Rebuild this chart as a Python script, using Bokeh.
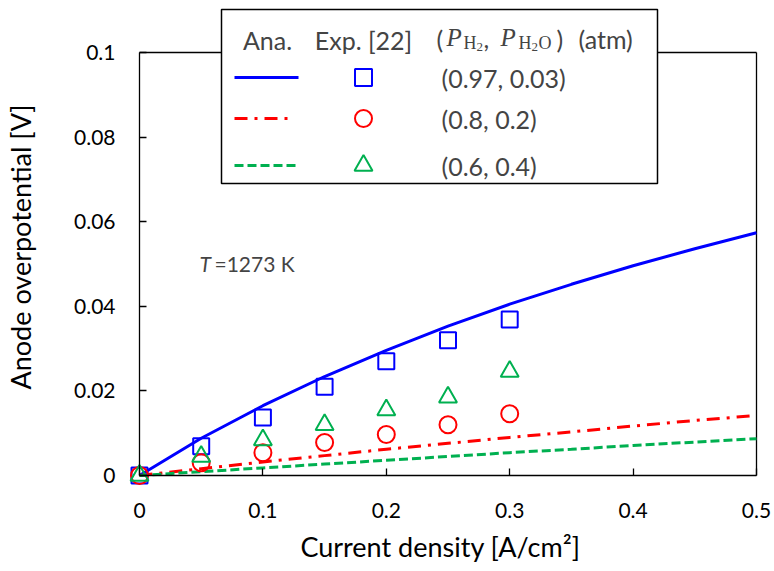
from bokeh.plotting import figure
from bokeh.models import Label, BoxAnnotation, Range1d, FixedTicker, NumeralTickFormatter, LinearAxis
from bokeh.embed import file_html
from bokeh.resources import INLINE

# ---------------- data ----------------
x_ana = [0.0, 0.05, 0.1, 0.15, 0.2, 0.25, 0.3, 0.35, 0.4, 0.45, 0.5]
eta_ana_097 = [0.0, 0.0088, 0.0165, 0.0234, 0.0296, 0.0353, 0.0405, 0.0452, 0.0496, 0.0536, 0.0574]
eta_ana_08 = [0.0, 0.0016, 0.0032, 0.0047, 0.0062, 0.0076, 0.0090, 0.0103, 0.0117, 0.0130, 0.0142]
eta_ana_06 = [0.0, 0.0009, 0.0018, 0.0027, 0.0036, 0.0045, 0.0054, 0.0062, 0.0071, 0.0079, 0.0087]

x_exp = [0.0, 0.05, 0.1, 0.15, 0.2, 0.25, 0.3]
eta_exp_097 = [0.0, 0.0069, 0.0137, 0.0210, 0.0270, 0.0320, 0.0369]
eta_exp_08 = [0.0, 0.0030, 0.0054, 0.0078, 0.0097, 0.0120, 0.0146]
eta_exp_06 = [0.0, 0.0045, 0.0084, 0.0120, 0.0155, 0.0185, 0.0246]

x_ticks = [0, 0.1, 0.2, 0.3, 0.4, 0.5]
y_ticks = [0, 0.02, 0.04, 0.06, 0.08, 0.1]
x_lim = (0, 0.5)
y_lim = (0, 0.1)

legend_header = ["Ana.", "Exp. [22]"]
legend_labels = ["(0.97, 0.03)", "(0.8, 0.2)", "(0.6, 0.4)"]

BLUE = "#0000FF"
RED = "#FF0000"
GREEN = "#00B050"
FONT = "Lato"
SERIF = "Liberation Serif"

# ---------------- layout (pixels) ----------------
W, H = 774, 571
AX_L, AX_R, AX_T, AX_B = 139, 756, 52, 475     # where the axes box is drawn
FR_L, FR_R, FR_T, FR_B = 121, 759, 5, 488      # plotting frame (slightly larger, so markers are not clipped)
sx = (AX_R - AX_L) / (x_lim[1] - x_lim[0])
sy = (AX_B - AX_T) / (y_lim[1] - y_lim[0])

p = figure(width=W, height=H, output_backend="svg", toolbar_location=None,
           x_range=Range1d(x_lim[0] - (AX_L - FR_L) / sx, x_lim[1] + (FR_R - AX_R) / sx),
           y_range=Range1d(y_lim[0] - (FR_B - AX_B) / sy, y_lim[1] + (AX_T - FR_T) / sy),
           min_border_left=FR_L, min_border_right=W - FR_R,
           min_border_top=FR_T, min_border_bottom=H - FR_B)
p.xgrid.visible = False
p.ygrid.visible = False
p.outline_line_color = None
p.background_fill_color = "white"
p.border_fill_color = "white"


def px2x(px):
    return x_lim[0] + (px - AX_L) / sx


def py2y(py):
    return y_lim[0] + (AX_B - py) / sy


# label-only axes at the frame edges
for ax, ticks, fmt in ((p.xaxis[0], x_ticks, "0.[0]"), (p.yaxis[0], y_ticks, "0.[00]")):
    ax.ticker = FixedTicker(ticks=ticks)
    ax.formatter = NumeralTickFormatter(format=fmt)
    ax.axis_line_color = None
    ax.major_tick_line_color = None
    ax.minor_tick_line_color = None
    ax.major_tick_in = 0
    ax.major_tick_out = 0
    ax.major_label_text_font = FONT
    ax.major_label_text_font_size = "21px"
    ax.major_label_text_color = "black"
    ax.axis_label_text_font = FONT
    ax.axis_label_text_font_size = "27px"
    ax.axis_label_text_font_style = "normal"
    ax.axis_label_text_color = "black"

p.xaxis.axis_label = "Current density [A/cm²]"
p.yaxis.axis_label = "Anode overpotential [V]"
p.xaxis.major_label_standoff = 14
p.yaxis.major_label_standoff = 6
p.xaxis.axis_label_standoff = 9
p.yaxis.axis_label_standoff = 34

# axis lines with inward ticks, fixed at the data origin (no labels of their own)
for side, ticks, lim in (("below", x_ticks, x_lim), ("left", y_ticks, y_lim)):
    fax = LinearAxis(ticker=FixedTicker(ticks=ticks), bounds=lim, fixed_location=0,
                     major_tick_in=7, major_tick_out=0, minor_tick_line_color=None,
                     axis_line_width=1.3, major_tick_line_width=1.3,
                     major_label_text_color=None, major_label_text_alpha=0,
                     major_label_text_font_size="0px", major_label_standoff=0)
    p.add_layout(fax, side)

# top and right edges of the axes box
p.segment(x0=[x_lim[0], x_lim[1]], y0=[y_lim[1], y_lim[0]],
          x1=[x_lim[1], x_lim[1]], y1=[y_lim[1], y_lim[1]],
          line_color="black", line_width=1.3)

# analytical curves
p.line(x_ana, eta_ana_097, line_color=BLUE, line_width=3)
p.line(x_ana, eta_ana_08, line_color=RED, line_width=3, line_dash="13 7 3 7")
p.line(x_ana, eta_ana_06, line_color=GREEN, line_width=3, line_dash="9 4")

# experimental points
p.scatter(x_exp, eta_exp_097, marker="square", size=16, fill_color=None,
          line_color=BLUE, line_width=2)
p.scatter(x_exp, eta_exp_08, marker="circle", size=17, fill_color=None,
          line_color=RED, line_width=2)
p.scatter(x_exp, eta_exp_06, marker="triangle", size=18, fill_color=None,
          line_color=GREEN, line_width=2)


def lab(px, py, text, size="25px", font=FONT, style="normal", align="left", level="overlay"):
    p.add_layout(Label(x=px2x(px), y=py2y(py), text=text, text_font=font,
                       text_font_style=style, text_font_size=size,
                       text_baseline="middle", text_align=align, level=level))


# temperature annotation
lab(199, 263, "T", size="21px", style="italic")
lab(214, 263, "=1273 K", size="21px")

# ---------------- legend (custom table) ----------------
box = BoxAnnotation(left=px2x(221), right=px2x(657), top=py2y(9), bottom=py2y(183),
                    fill_color="white", fill_alpha=1.0, line_color="black", line_alpha=1.0,
                    line_width=1.5, level="annotation")
p.add_layout(box)

lab(267, 39, legend_header[0], align="center")
lab(363, 39, legend_header[1], align="center")
lab(436, 38, "(")
lab(446, 37, "P", size="25px", font=SERIF, style="italic")
lab(463, 42, "H", size="18px", font=SERIF)
lab(476, 46, "2", size="13px", font=SERIF)
lab(483, 38, ",")
lab(500, 37, "P", size="25px", font=SERIF, style="italic")
lab(518, 42, "H", size="18px", font=SERIF)
lab(531, 46, "2", size="13px", font=SERIF)
lab(538, 42, "O", size="18px", font=SERIF)
lab(556, 38, ")")
lab(578, 38, "(atm)")

row_y = [77, 118, 165]
for yy, t in zip(row_y, legend_labels):
    lab(441, yy, t)

lx0, mx = 234, 363
p.line([px2x(lx0), px2x(298)], [py2y(row_y[0])] * 2, line_color=BLUE, line_width=3, level="overlay")
p.line([px2x(lx0), px2x(290)], [py2y(row_y[1])] * 2, line_color=RED, line_width=3,
       line_dash="13 7 3 7", level="overlay")
p.line([px2x(lx0), px2x(296)], [py2y(row_y[2])] * 2, line_color=GREEN, line_width=3,
       line_dash="9 4", level="overlay")
p.scatter([px2x(mx)], [py2y(row_y[0])], marker="square", size=17, fill_color=None,
          line_color=BLUE, line_width=2, level="overlay")
p.scatter([px2x(mx)], [py2y(row_y[1])], marker="circle", size=17, fill_color=None,
          line_color=RED, line_width=2, level="overlay")
p.scatter([px2x(mx)], [py2y(row_y[2])], marker="triangle", size=18, fill_color=None,
          line_color=GREEN, line_width=2, level="overlay")

open("out.html", "w").write(file_html(p, INLINE))
